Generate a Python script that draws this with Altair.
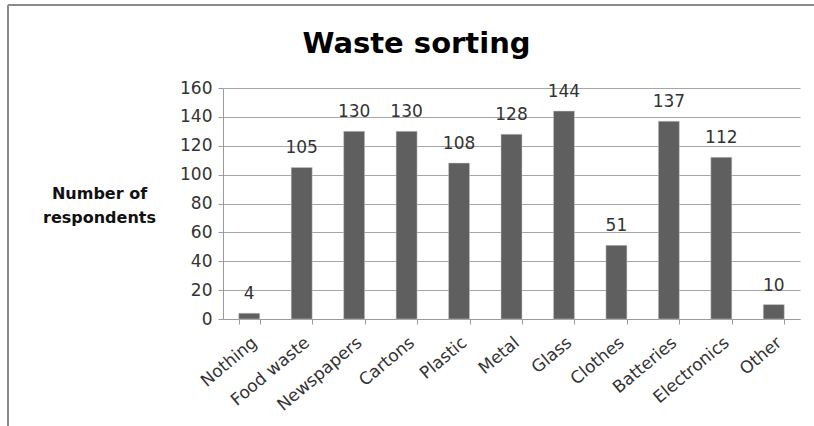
import altair as alt
import pandas as pd

categories = ["Nothing", "Food waste", "Newspapers", "Cartons", "Plastic", "Metal",
              "Glass", "Clothes", "Batteries", "Electronics", "Other"]
respondents = [4, 105, 130, 130, 108, 128, 144, 51, 137, 112, 10]
y_ticks = [0, 20, 40, 60, 80, 100, 120, 140, 160]

df = pd.DataFrame({"category": categories, "count": respondents})

FONT = "DejaVu Sans"
TEXT = "#333333"
LINE = "#9a9a9a"

base = alt.Chart(df).encode(
    x=alt.X(
        "category:N", sort=categories, title=None,
        scale=alt.Scale(paddingInner=0.6, paddingOuter=0.3),
        axis=alt.Axis(labelAngle=-40, labelAlign="right", labelBaseline="top",
                      labelFontSize=17, labelColor=TEXT, labelFont=FONT, labelPadding=10,
                      labelOverlap=False, tickBand="extent", tickSize=5,
                      tickColor=LINE, domainColor=LINE, grid=False),
    ),
    y=alt.Y(
        "count:Q",
        scale=alt.Scale(domain=[0, 160], nice=False),
        axis=alt.Axis(values=y_ticks, labelOverlap=False,
                      title=["Number of", "respondents"], titleAngle=0,
                      titleFontSize=16, titleFont=FONT, titleFontWeight="bold",
                      titleColor="#111111", titleX=-124, titleY=105, titleAlign="center",
                      titleBaseline="middle", titleLineHeight=24,
                      labelFontSize=17, labelFont=FONT, labelColor=TEXT, labelPadding=6,
                      tickSize=5, tickColor=LINE, domainColor=LINE,
                      gridColor="#a6a6a6"),
    ),
)

bars = base.mark_bar(color="#5f5f5f", stroke="#cfcfcf", strokeWidth=0.5)
labels = base.mark_text(
    dy=-14, fontSize=17, font=FONT, color=TEXT, baseline="alphabetic"
).encode(text="count:Q")

# outer chart frame (left and top edges)
frame_left = alt.Chart(df).mark_rule(color="#8a8a8a", strokeWidth=2).encode(
    x=alt.value(-215), y=alt.value(-83), y2=alt.value(340)
)
frame_top = alt.Chart(df).mark_rule(color="#8a8a8a", strokeWidth=2).encode(
    x=alt.value(-215), x2=alt.value(600), y=alt.value(-83)
)

chart = alt.layer(frame_left, frame_top, bars, labels).properties(
    width=577, height=231,
    autosize=alt.AutoSizeParams(type="none"),
    padding={"left": 223, "top": 88, "right": 14, "bottom": 107},
    title=alt.TitleParams("Waste sorting", fontSize=29, font=FONT, fontWeight="bold",
                          color="#000000", anchor="middle", dx=-95, offset=-55),
).configure_view(stroke=None)

chart.save("out.html", embed_options={"renderer": "svg", "actions": False})
